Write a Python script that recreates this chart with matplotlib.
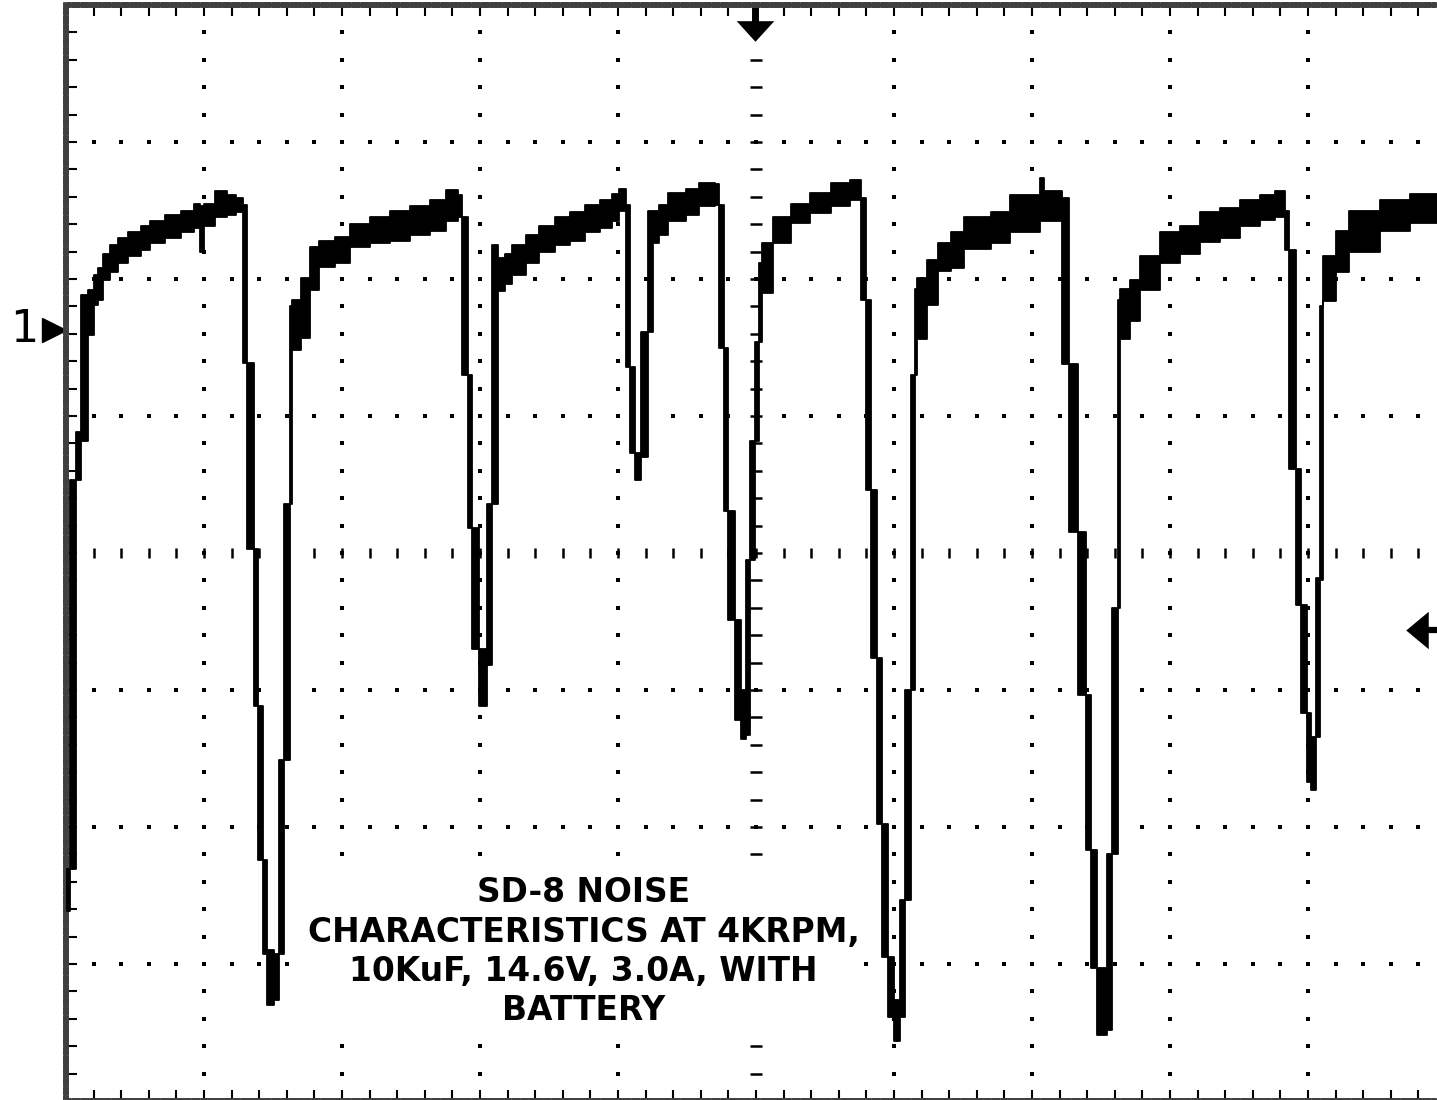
import matplotlib.pyplot as plt
import numpy as np

# scope trace read column by column: start time (div), top and bottom of the trace (div)
t = [0.00, 0.03, 0.07, 0.11, 0.16, 0.20, 0.23, 0.27, 0.32, 0.38, 0.45, 0.54, 0.61, 0.72, 0.83,
     0.93, 0.97, 1.00, 1.08, 1.17, 1.23, 1.28, 1.31, 1.36, 1.39, 1.43, 1.46, 1.51, 1.54, 1.58,
     1.62, 1.64, 1.70, 1.77, 1.83, 1.95, 2.06, 2.20, 2.35, 2.49, 2.64, 2.75, 2.84, 2.87, 2.91,
     2.94, 2.99, 3.05, 3.09, 3.13, 3.18, 3.23, 3.33, 3.43, 3.54, 3.65, 3.76, 3.87, 3.96, 4.01,
     4.06, 4.09, 4.12, 4.17, 4.22, 4.25, 4.30, 4.36, 4.49, 4.59, 4.70, 4.73, 4.77, 4.80, 4.85,
     4.89, 4.93, 4.96, 4.99, 5.02, 5.04, 5.12, 5.25, 5.39, 5.54, 5.68, 5.76, 5.80, 5.83, 5.88,
     5.91, 5.96, 6.00, 6.04, 6.08, 6.12, 6.15, 6.17, 6.24, 6.32, 6.41, 6.51, 6.70, 6.84, 7.06,
     7.09, 7.22, 7.27, 7.33, 7.39, 7.43, 7.47, 7.54, 7.58, 7.62, 7.64, 7.71, 7.78, 7.93, 8.07,
     8.22, 8.36, 8.51, 8.65, 8.76, 8.83, 8.86, 8.91, 8.95, 8.99, 9.02, 9.06, 9.09, 9.11, 9.20,
     9.30, 9.52, 9.74, 10.0]
v_hi = [-2.31, 0.53, 0.88, 1.88, 1.92, 2.03, 2.08, 2.18, 2.25, 2.30, 2.34, 2.39, 2.42, 2.47, 2.50,
        2.55, 2.53, 2.55, 2.64, 2.61, 2.59, 2.54, 1.39, 0.03, -1.12, -2.24, -2.90, -2.93, -1.51, 0.36,
        1.80, 1.85, 2.01, 2.23, 2.28, 2.31, 2.40, 2.45, 2.50, 2.53, 2.58, 2.65, 2.61, 2.45, 1.30,
        0.18, -0.70, 0.36, 2.25, 2.15, 2.18, 2.25, 2.32, 2.39, 2.45, 2.49, 2.54, 2.58, 2.62, 2.66,
        2.54, 1.36, 0.73, 1.61, 2.50, 2.50, 2.54, 2.63, 2.66, 2.70, 2.69, 2.54, 1.50, 0.31, -0.49,
        -1.00, -0.05, 0.82, 1.54, 2.12, 2.26, 2.45, 2.55, 2.63, 2.70, 2.72, 2.59, 1.85, 0.46, -0.77,
        -1.98, -2.95, -3.26, -2.53, -1.00, 1.30, 1.93, 2.01, 2.14, 2.26, 2.34, 2.45, 2.49, 2.61, 2.74,
        2.64, 2.59, 1.38, 0.15, -1.04, -2.17, -3.03, -2.20, -0.40, 1.85, 1.93, 1.99, 2.17, 2.34, 2.39,
        2.49, 2.52, 2.58, 2.61, 2.64, 2.50, 2.21, 0.61, -0.38, -1.17, -1.34, -0.18, 1.80, 2.17, 2.35,
        2.50, 2.58, 2.62, 2.62]
v_lo = [-2.61, -2.31, 0.53, 0.82, 1.59, 1.81, 1.85, 1.99, 2.05, 2.12, 2.17, 2.21, 2.26, 2.30, 2.34,
        2.37, 2.20, 2.39, 2.45, 2.47, 2.49, 1.39, 0.03, -1.12, -2.24, -2.93, -3.30, -3.26, -2.93, -1.51,
        0.36, 1.48, 1.57, 1.92, 2.09, 2.12, 2.23, 2.26, 2.28, 2.32, 2.35, 2.42, 2.45, 1.30, 0.18,
        -0.70, -1.12, -0.82, 0.36, 1.91, 1.96, 2.03, 2.12, 2.20, 2.25, 2.28, 2.34, 2.37, 2.42, 2.50,
        1.36, 0.73, 0.53, 0.70, 1.61, 2.26, 2.32, 2.42, 2.47, 2.53, 2.54, 1.50, 0.31, -0.49, -1.22,
        -1.36, -1.33, -0.05, 0.82, 1.54, 1.90, 2.26, 2.41, 2.48, 2.53, 2.58, 1.85, 0.46, -0.77, -1.98,
        -2.95, -3.39, -3.56, -3.39, -2.53, -1.00, 1.30, 1.56, 1.81, 2.06, 2.08, 2.22, 2.26, 2.34, 2.42,
        2.42, 1.38, 0.15, -1.04, -2.17, -3.03, -3.52, -3.48, -2.20, -0.40, 1.56, 1.69, 1.92, 2.12, 2.18,
        2.27, 2.30, 2.39, 2.43, 2.45, 2.21, 0.61, -0.38, -1.17, -1.67, -1.73, -1.34, -0.20, 1.84, 2.05,
        2.20, 2.35, 2.41, 2.41]

grid_x = [1, 2, 3, 4, 6, 7, 8, 9]
grid_y = [-3, -2, -1, 1, 2, 3]
ground_level = 1.63      # channel 1 marker
trigger_time = 4.99      # top marker
trigger_level = -0.56    # right marker

caption = "SD-8 NOISE\nCHARACTERISTICS AT 4KRPM,\n10KuF, 14.6V, 3.0A, WITH\nBATTERY"

fig = plt.figure(figsize=(14.37, 11), dpi=100)
ax = fig.add_axes([66 / 1437, -1 / 1100, 1380 / 1437, 1096 / 1100])
ax.set_xlim(0, 10)
ax.set_ylim(-4, 4)

sub_x = np.round(np.arange(0, 10.001, 0.2), 2)
sub_y = np.round(np.arange(-4, 4.001, 0.2), 2)

# dotted graticule
for gx in grid_x:
    ax.plot(np.full(len(sub_y), gx), sub_y, 's', ms=2.7, mew=0, color='k')
for gy in grid_y:
    ax.plot(sub_x, np.full(len(sub_x), gy), 's', ms=2.7, mew=0, color='k')
# centre axes with small tick marks
ax.plot(np.full(len(sub_y), 5), sub_y, '_', ms=8, mew=1.8, color='k')
ax.plot(sub_x, np.zeros(len(sub_x)), '|', ms=7, mew=1.8, color='k')

# border
ax.set_xticks(sub_x)
ax.set_yticks(sub_y)
ax.tick_params(direction='in', length=8, width=1.5, top=True, bottom=True,
               left=True, right=False, labelbottom=False, labelleft=False)
for s in ['left', 'top', 'bottom']:
    ax.spines[s].set_linewidth(4)
    ax.spines[s].set_color('0.25')
    ax.spines[s].set_linestyle((0, (0.4, 0.4)))
ax.spines['right'].set_visible(False)

# trace
ax.fill_between(t, v_lo, v_hi, step='post', facecolor='k', edgecolor='k', lw=1.3, zorder=3)

# markers
ax.plot([-0.085], [ground_level], marker='>', ms=17, color='k', clip_on=False)
ax.text(-0.30, ground_level, '1', fontsize=32, ha='center', va='center', clip_on=False)
ax.plot([trigger_time, trigger_time], [3.81, 4.0], color='k', lw=5, solid_capstyle='butt')
ax.plot([trigger_time], [3.81], marker=[(-1, 0.55), (1, 0.55), (0, -0.55)], ms=27, color='k', mew=0)
ax.plot([9.87, 10.0], [trigger_level, trigger_level], color='k', lw=4.5, solid_capstyle='butt')
ax.plot([9.79], [trigger_level], marker=[(-0.6, 0), (0.6, -1), (0.6, 1)], ms=27, color='k', mew=0)

ax.text(3.75, -2.91, caption, ha='center', va='center', fontsize=23.7,
        fontweight='bold', family='DejaVu Sans', linespacing=1.24, zorder=4,
        bbox=dict(facecolor='white', edgecolor='none', pad=1))

fig.savefig('out.png', dpi=100, facecolor='white')
